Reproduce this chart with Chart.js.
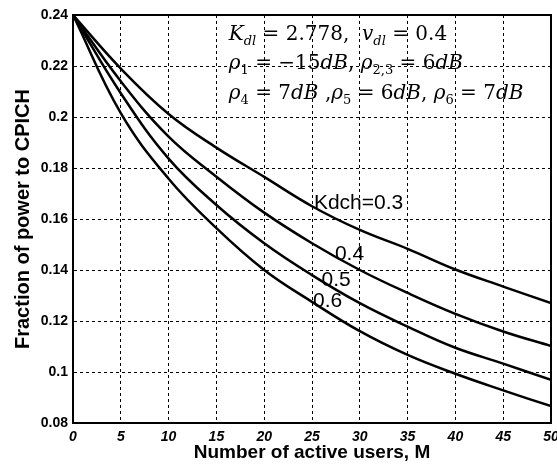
<!DOCTYPE html>
<html>
<head>
<meta charset="utf-8">
<script src="https://cdn.jsdelivr.net/npm/chart.js@4"></script>
<style>
  body { margin: 0; background: #fff; }
</style>
</head>
<body>
<canvas id="myChart" width="557" height="471"></canvas>
<script>
const users = [0, 5, 10, 15, 20, 25, 30, 35, 40, 45, 50];
const kdch03 = [0.24, 0.2190, 0.2012, 0.1880, 0.1765, 0.1650, 0.1557, 0.1483, 0.1402, 0.1335, 0.1270];
const kdch04 = [0.24, 0.2140, 0.1923, 0.1766, 0.1625, 0.1505, 0.1400, 0.1310, 0.1228, 0.1159, 0.1102];
const kdch05 = [0.24, 0.2093, 0.1837, 0.1655, 0.1505, 0.1380, 0.1270, 0.1178, 0.1095, 0.1033, 0.0969];
const kdch06 = [0.24, 0.2015, 0.1758, 0.1564, 0.1400, 0.1275, 0.1160, 0.1067, 0.0993, 0.0928, 0.0866];
const yTickLabels = ["0.08", "0.1", "0.12", "0.14", "0.16", "0.18", "0.2", "0.22", "0.24"];
const curveLabels = [
    { text: "Kdch=0.3", x: 25.2, y: 0.1663 },
    { text: "0.4", x: 27.4, y: 0.1463 },
    { text: "0.5", x: 26.0, y: 0.1361 },
    { text: "0.6", x: 25.1, y: 0.1279 },
];

function points(ys) {
    return users.map((u, i) => ({ x: u, y: ys[i] }));
}

function curve(ys) {
    return {
        data: points(ys),
        borderColor: "#000",
        borderWidth: 2.5,
        pointRadius: 0,
        fill: false,
        tension: 0.4,
    };
}

// math annotation: runs of text, sub = subscript
const mathLines = [
    { x: 16.3, y: 0.2302, runs: [
        { t: "K", it: true }, { t: "dl", it: true, sub: true }, { t: " = 2.778,  " },
        { t: "v", it: true }, { t: "dl", it: true, sub: true }, { t: " = 0.4" } ] },
    { x: 16.3, y: 0.2188, runs: [
        { t: "ρ", it: true }, { t: "1", sub: true }, { t: " = −15" }, { t: "dB", it: true }, { t: ", " },
        { t: "ρ", it: true }, { t: "2,3", sub: true }, { t: " = 6" }, { t: "dB", it: true } ] },
    { x: 16.3, y: 0.2071, runs: [
        { t: "ρ", it: true }, { t: "4", sub: true }, { t: " = 7" }, { t: "dB", it: true }, { t: " ," },
        { t: "ρ", it: true }, { t: "5", sub: true }, { t: " = 6" }, { t: "dB", it: true }, { t: ", " },
        { t: "ρ", it: true }, { t: "6", sub: true }, { t: " = 7" }, { t: "dB", it: true } ] },
];

const annotations = {
    id: "annotations",
    afterDatasetsDraw(chart) {
        const { ctx, chartArea, scales } = chart;
        ctx.save();
        // frame
        ctx.strokeStyle = "#000";
        ctx.lineWidth = 2;
        ctx.strokeRect(chartArea.left, chartArea.top, chartArea.right - chartArea.left, chartArea.bottom - chartArea.top);

        ctx.fillStyle = "#000";
        ctx.textBaseline = "middle";
        ctx.textAlign = "left";
        ctx.font = "21px 'Liberation Sans', Arial, sans-serif";
        curveLabels.forEach(l => {
            ctx.fillText(l.text, scales.x.getPixelForValue(l.x), scales.y.getPixelForValue(l.y));
        });

        ctx.textBaseline = "alphabetic";
        mathLines.forEach(line => {
            let px = scales.x.getPixelForValue(line.x);
            const py = scales.y.getPixelForValue(line.y);
            line.runs.forEach(r => {
                const size = r.sub ? 13 : 20;
                ctx.font = (r.it ? "italic " : "") + size + "px 'DejaVu Serif', 'Liberation Serif', serif";
                ctx.fillText(r.t, px, py + (r.sub ? 5 : 0));
                px += ctx.measureText(r.t).width;
            });
        });
        ctx.restore();
    }
};

const ctx = document.getElementById("myChart");

let myChart = new Chart(ctx, {
    type: "line",
    data: {
        datasets: [curve(kdch03), curve(kdch04), curve(kdch05), curve(kdch06)],
    },
    options: {
        responsive: false,
        animation: false,
        devicePixelRatio: 1,
        layout: { padding: { left: 0, right: 6, top: 15, bottom: 0 } },
        plugins: {
            legend: { display: false },
            tooltip: { enabled: false },
        },
        scales: {
            x: {
                type: "linear",
                min: 0,
                max: 50,
                ticks: {
                    stepSize: 5,
                    color: "#000",
                    padding: 6,
                    maxRotation: 0,
                    font: { family: "'Liberation Sans', Arial, sans-serif", size: 14, weight: "bold", style: "italic" },
                },
                grid: { color: "#000", lineWidth: 1, drawTicks: false },
                border: { color: "#000", width: 2, dash: [3, 3] },
                title: {
                    display: true,
                    text: "Number of active users, M",
                    color: "#000",
                    padding: { top: 0, bottom: 7 },
                    font: { family: "'Liberation Sans', Arial, sans-serif", size: 19, weight: "bold" },
                },
                afterFit(scale) {
                    scale.height = 48;
                    scale.paddingLeft = 0;
                    scale.paddingRight = 0;
                },
            },
            y: {
                min: 0.08,
                max: 0.24,
                ticks: {
                    stepSize: 0.02,
                    color: "#000",
                    padding: 5,
                    callback: (value, index) => yTickLabels[index],
                    font: { family: "'Liberation Sans', Arial, sans-serif", size: 14, weight: "bold" },
                },
                grid: { color: "#000", lineWidth: 1, drawTicks: false },
                border: { color: "#000", width: 2, dash: [3, 3] },
                title: {
                    display: true,
                    text: "Fraction of power to CPICH",
                    color: "#000",
                    padding: { top: 11, bottom: 0 },
                    font: { family: "'Liberation Sans', Arial, sans-serif", size: 20, weight: "bold" },
                },
                afterFit(scale) {
                    scale.width = 73;
                    scale.paddingTop = 0;
                    scale.paddingBottom = 0;
                },
            },
        },
    },
    plugins: [annotations],
});
</script>
</body>
</html>
